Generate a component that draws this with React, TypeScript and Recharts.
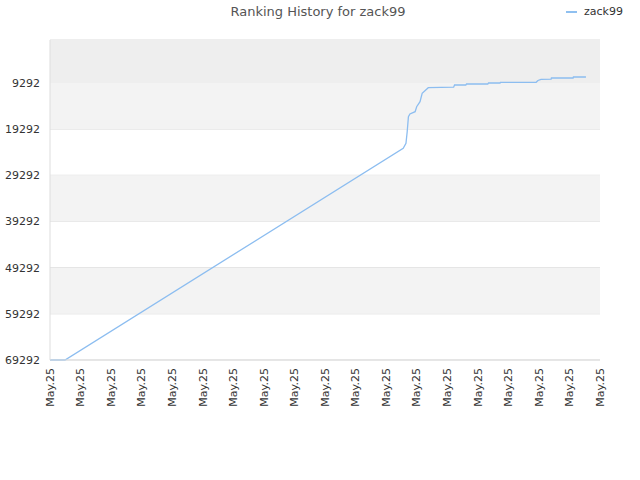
import React from 'react';
import { LineChart, Line, XAxis, YAxis, CartesianGrid, ReferenceArea } from 'recharts';

const tickLabels = ['May.25','May.25','May.25','May.25','May.25','May.25','May.25','May.25','May.25','May.25','May.25','May.25','May.25','May.25','May.25','May.25','May.25','May.25','May.25'];
const xTicks = [0,1,2,3,4,5,6,7,8,9,10,11,12,13,14,15,16,17,18];
const yTicks = [9292, 19292, 29292, 39292, 49292, 59292, 69292];
const times = [0, 0.49, 11.56, 11.65, 11.69, 11.73, 11.78, 11.95, 12.0, 12.11, 12.18, 12.38, 12.80, 13.21, 13.24, 13.61, 13.63, 14.33, 14.35, 14.73, 14.74, 15.91, 15.97, 16.07, 16.40, 16.41, 17.12, 17.13, 17.54];
const ranks = [69292, 69292, 23451, 22369, 19857, 16609, 16024, 15526, 14443, 13360, 11542, 10329, 10264, 10221, 9744, 9744, 9528, 9528, 9311, 9311, 9160, 9160, 8770, 8510, 8488, 8229, 8229, 8012, 8012];
const bandStarts = [0, 9292, 29292, 49292];
const bandEnds = [9292, 19292, 39292, 59292];
const bandColors = ['#eeeeee', '#f3f3f3', '#f3f3f3', '#f3f3f3'];

const data = times.map((t, i) => ({ t, rank: ranks[i] }));

const font = 'DejaVu Sans, Verdana, sans-serif';

export default function App() {
  return (
    <div style={{ position: 'absolute', left: 0, top: 0, width: 640, height: 480, background: '#fff', fontFamily: font }}>
      <div style={{ position: 'absolute', top: 4, left: 0, width: 636, textAlign: 'center', fontSize: 13, color: '#555' }}>
        Ranking History for zack99
      </div>
      <div style={{ position: 'absolute', top: 5, left: 566, fontSize: 11, color: '#333', display: 'flex', alignItems: 'center' }}>
        <span style={{ display: 'inline-block', width: 11, height: 2, background: '#8fc0f0', marginRight: 7 }} />
        zack99
      </div>
      <LineChart width={640} height={480} data={data} margin={{ top: 40, right: 40, bottom: 0, left: 0 }}>
        {bandStarts.map((s, i) => (
          <ReferenceArea key={i} y1={s} y2={bandEnds[i]} fill={bandColors[i]} fillOpacity={1} stroke="none" ifOverflow="visible" />
        ))}
        <CartesianGrid stroke="#dddddd" vertical={false} />
        <XAxis
          dataKey="t"
          type="number"
          domain={[0, 18]}
          ticks={xTicks}
          interval={0}
          tickFormatter={(v: number) => tickLabels[v]}
          angle={-90}
          textAnchor="end"
          height={120}
          tickLine={false}
          axisLine={{ stroke: '#dddddd' }}
          tick={{ fill: '#333', fontSize: 11, fontFamily: font, dx: -4 }}
        />
        <YAxis
          type="number"
          reversed
          domain={[0, 69292]}
          ticks={yTicks}
          interval={0}
          width={50}
          tickLine={false}
          axisLine={{ stroke: '#dddddd' }}
          tick={{ fill: '#333', fontSize: 11, fontFamily: font, dx: -2 }}
        />
        <Line
          type="linear"
          dataKey="rank"
          stroke="#8cbdf0"
          strokeWidth={1.3}
          dot={false}
          isAnimationActive={false}
        />
        <ReferenceArea x1={18} x2={18} y1={0} y2={69292} stroke="#dddddd" fill="none" ifOverflow="visible" />
      </LineChart>
    </div>
  );
}
